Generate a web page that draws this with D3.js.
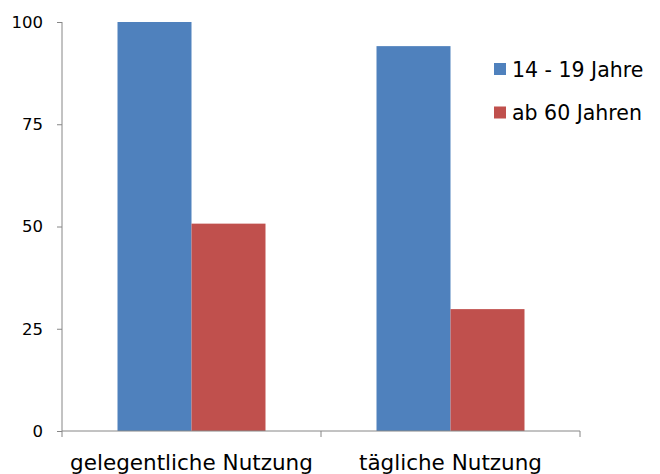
<!DOCTYPE html>
<html>
<head>
<meta charset="utf-8">
<script src="https://cdn.jsdelivr.net/npm/d3@7"></script>
<style>
  body { margin: 0; background: #fff; }
  text { font-family: "DejaVu Sans", sans-serif; fill: #000; }
</style>
</head>
<body>
<div id="chart"></div>
<script>
// chart data
var categories = ["gelegentliche Nutzung", "tägliche Nutzung"];
var seriesNames = ["14 - 19 Jahre", "ab 60 Jahren"];
var youngValues = [100, 94.1];
var oldValues = [50.7, 29.8];
var yTicks = [0, 25, 50, 75, 100];
var colors = ["#4F81BD", "#C0504D"];

var svgWidth = 660;
var svgHeight = 474;

var svg = d3.select("#chart")
  .append("svg")
  .attr("width", svgWidth)
  .attr("height", svgHeight);

// plot area
var plot = { left: 62, right: 580, top: 22, bottom: 431 };

var x0 = d3.scaleBand()
  .domain(categories)
  .range([plot.left, plot.right])
  .paddingInner(0.4286)
  .paddingOuter(0.2143);

var x1 = d3.scaleBand()
  .domain(seriesNames)
  .range([0, x0.bandwidth()]);

var y = d3.scaleLinear()
  .domain([0, 100])
  .range([plot.bottom, plot.top]);

var rows = categories.map(function(c, i) {
  return { cat: c, vals: [youngValues[i], oldValues[i]] };
});

// bars
var groups = svg.selectAll("g.cat")
  .data(rows)
  .enter()
  .append("g")
  .attr("class", "cat")
  .attr("transform", d => `translate(${x0(d.cat)},0)`);

groups.selectAll("rect")
  .data(d => d.vals.map((v, i) => ({ name: seriesNames[i], v: v, i: i })))
  .enter()
  .append("rect")
  .attr("x", d => x1(d.name))
  .attr("y", d => y(d.v))
  .attr("width", x1.bandwidth())
  .attr("height", d => plot.bottom - y(d.v))
  .attr("fill", d => colors[d.i]);

// y axis
var yAxis = svg.append("g")
  .attr("transform", `translate(${plot.left},0)`)
  .call(d3.axisLeft(y).tickValues(yTicks).tickSize(5).tickPadding(14));
yAxis.select(".domain").attr("stroke", "#868686").attr("d", `M0,${plot.top}V${plot.bottom}`);
yAxis.selectAll(".tick line").attr("stroke", "#868686");
yAxis.selectAll(".tick text").style("font-size", "16.5px").attr("fill", "#000");

// x axis
var xAxis = svg.append("g")
  .attr("transform", `translate(0,${plot.bottom})`);
xAxis.append("line")
  .attr("x1", plot.left).attr("x2", plot.right)
  .attr("stroke", "#868686");
xAxis.selectAll("line.tk")
  .data([plot.left, (plot.left + plot.right) / 2, plot.right])
  .enter()
  .append("line")
  .attr("class", "tk")
  .attr("x1", d => d).attr("x2", d => d)
  .attr("y1", 0).attr("y2", 6)
  .attr("stroke", "#868686");
xAxis.selectAll("text")
  .data(categories)
  .enter()
  .append("text")
  .attr("x", d => x0(d) + x0.bandwidth() / 2)
  .attr("y", 39)
  .attr("text-anchor", "middle")
  .style("font-size", "21.5px")
  .text(d => d);

// legend
var legend = svg.append("g").attr("transform", "translate(494,63)");
var items = legend.selectAll("g")
  .data(seriesNames)
  .enter()
  .append("g")
  .attr("transform", (d, i) => `translate(0,${i * 43.5})`);
items.append("rect")
  .attr("width", 12).attr("height", 12)
  .attr("fill", (d, i) => colors[i]);
items.append("text")
  .attr("x", 18).attr("y", 13.5)
  .style("font-size", "20.5px")
  .text(d => d);
</script>
</body>
</html>
